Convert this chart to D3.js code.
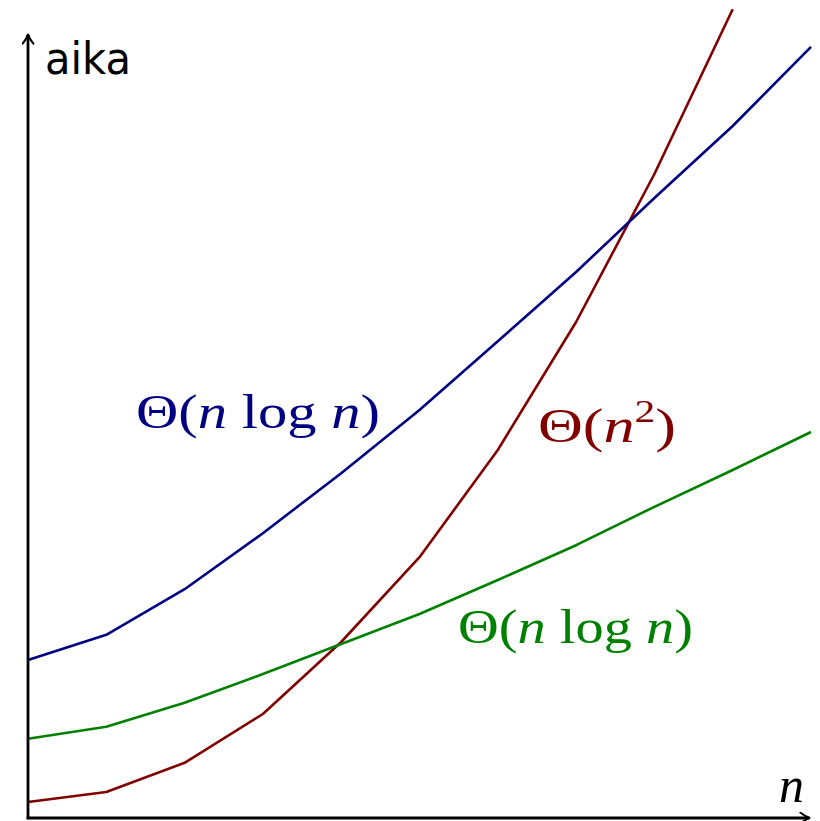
<!DOCTYPE html>
<html>
<head>
<meta charset="utf-8">
<script src="https://cdn.jsdelivr.net/npm/d3@7"></script>
<style>
  html, body { margin: 0; padding: 0; background: #fff; }
  svg { display: block; }
</style>
</head>
<body>
<svg id="chart" width="820" height="821"></svg>
<script>
// Problem size steps along the horizontal axis
const sizes = [0, 1, 2, 3, 4, 5, 6, 7, 8, 9, 10];

// Running time of each algorithm (arbitrary time units)
const nlognUpper = [19.75, 22.9, 28.6, 35.6, 43.1, 51.0, 59.6, 68.25, 77.5, 86.5, 96.4];
const nlognLower = [9.9, 11.4, 14.4, 18.0, 21.75, 25.5, 29.75, 34.1, 38.9, 43.5, 48.25];
const quadratic  = [2.0, 3.25, 6.9, 13.0, 22.0, 32.6, 46.0, 62.0, 80.5, 101.1];

const axisLabels = { x: "n", y: "aika" };

const svg = d3.select("#chart");

const x = d3.scaleLinear().domain([0, 10]).range([28, 811]);
const y = d3.scaleLinear().domain([0, 100]).range([818, 18]);

const colors = { blue: "#000080", green: "#008000", red: "#800000" };

// Arrowhead in the LaTeX style
const defs = svg.append("defs");
defs.append("marker")
  .attr("id", "arrow")
  .attr("viewBox", "-10 -6 12 12")
  .attr("refX", 0).attr("refY", 0)
  .attr("markerWidth", 13).attr("markerHeight", 13)
  .attr("markerUnits", "userSpaceOnUse")
  .attr("orient", "auto")
  .append("path")
  .attr("d", "M-8,-5 Q-3,-1 1,0 Q-3,1 -8,5")
  .attr("fill", "none")
  .attr("stroke", "#000")
  .attr("stroke-width", 1.8)
  .attr("stroke-linecap", "round");

const line = d3.line()
  .x((d, i) => x(sizes[i]))
  .y(d => y(d));

const series = [
  { values: quadratic,  color: colors.red },
  { values: nlognUpper, color: colors.blue },
  { values: nlognLower, color: colors.green }
];

svg.append("g").selectAll("path")
  .data(series)
  .join("path")
  .attr("d", d => line(d.values))
  .attr("fill", "none")
  .attr("stroke", d => d.color)
  .attr("stroke-width", 2.6)
  .attr("stroke-linejoin", "round");

// Axes
const x0 = x(0), y0 = y(0);
svg.append("line")
  .attr("x1", x0 - 1.3).attr("y1", y0)
  .attr("x2", 809).attr("y2", y0)
  .attr("stroke", "#000").attr("stroke-width", 2.8)
  .attr("marker-end", "url(#arrow)");
svg.append("line")
  .attr("x1", x0).attr("y1", y0 + 1.3)
  .attr("x2", x0).attr("y2", 35)
  .attr("stroke", "#000").attr("stroke-width", 2.8)
  .attr("marker-end", "url(#arrow)");

// Axis labels
svg.append("text")
  .attr("x", 45).attr("y", 74)
  .attr("font-family", "'DejaVu Sans', sans-serif")
  .attr("font-size", 45)
  .attr("textLength", 86)
  .attr("lengthAdjust", "spacingAndGlyphs")
  .text(axisLabels.y);

svg.append("text")
  .attr("x", 779).attr("y", 802)
  .attr("font-family", "'Liberation Serif', serif")
  .attr("font-style", "italic")
  .attr("font-size", 50)
  .text(axisLabels.x);

// Curve annotations
const serif = "'Liberation Serif', 'DejaVu Serif', serif";
function thetaLabel(xPos, yPos, color, parts, width) {
  const t = svg.append("text")
    .attr("x", xPos).attr("y", yPos)
    .attr("font-family", serif)
    .attr("font-size", 48)
    .attr("fill", color);
  if (width) t.attr("textLength", width).attr("lengthAdjust", "spacingAndGlyphs");
  parts.forEach(p => {
    const s = t.append("tspan").text(p.text);
    if (p.italic) s.attr("font-style", "italic");
    if (p.sup) s.attr("font-size", 32).attr("dy", -20);
    if (p.down) s.attr("dy", 20);
  });
}

thetaLabel(136, 428, colors.blue, [
  { text: "Θ(" }, { text: "n", italic: true }, { text: " log " },
  { text: "n", italic: true }, { text: ")" }
], 244);

thetaLabel(538, 442, colors.red, [
  { text: "Θ(" }, { text: "n", italic: true }, { text: "2", sup: true },
  { text: ")", down: true }
], 138);

thetaLabel(458, 643, colors.green, [
  { text: "Θ(" }, { text: "n", italic: true }, { text: " log " },
  { text: "n", italic: true }, { text: ")" }
], 235);
</script>
</body>
</html>
